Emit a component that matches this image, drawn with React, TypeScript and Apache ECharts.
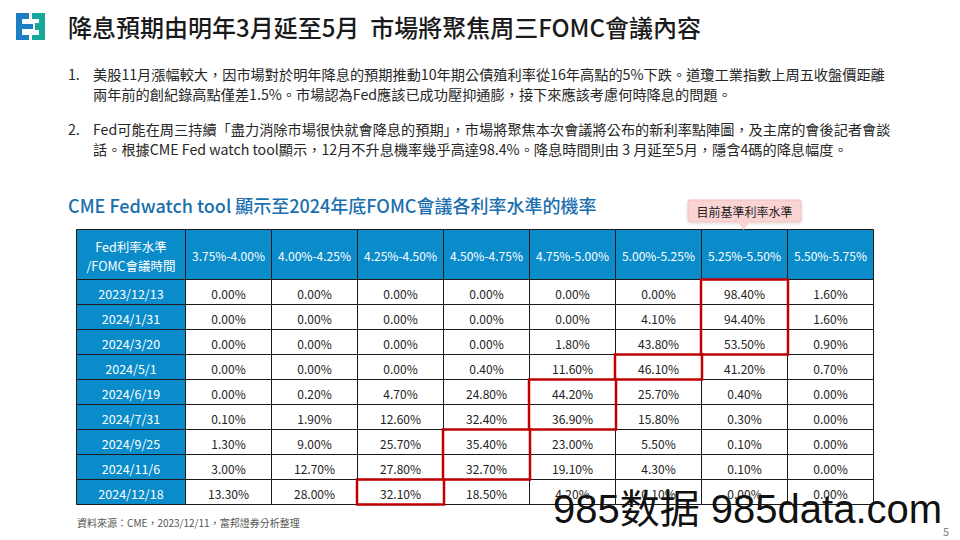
import React, { useEffect, useRef } from "react";
import * as echarts from "echarts";

// ---------- data ----------
const rateBands = ["3.75%-4.00%", "4.00%-4.25%", "4.25%-4.50%", "4.50%-4.75%", "4.75%-5.00%", "5.00%-5.25%", "5.25%-5.50%", "5.50%-5.75%"];
const meetings = ["2023/12/13", "2024/1/31", "2024/3/20", "2024/5/1", "2024/6/19", "2024/7/31", "2024/9/25", "2024/11/6", "2024/12/18"];
const p20231213 = [0, 0, 0, 0, 0, 0, 98.4, 1.6];
const p20240131 = [0, 0, 0, 0, 0, 4.1, 94.4, 1.6];
const p20240320 = [0, 0, 0, 0, 1.8, 43.8, 53.5, 0.9];
const p20240501 = [0, 0, 0, 0.4, 11.6, 46.1, 41.2, 0.7];
const p20240619 = [0, 0.2, 4.7, 24.8, 44.2, 25.7, 0.4, 0];
const p20240731 = [0.1, 1.9, 12.6, 32.4, 36.9, 15.8, 0.3, 0];
const p20240925 = [1.3, 9.0, 25.7, 35.4, 23.0, 5.5, 0.1, 0];
const p20241106 = [3.0, 12.7, 27.8, 32.7, 19.1, 4.3, 0.1, 0];
const p20241218 = [13.3, 28.0, 32.1, 18.5, 4.2, 0.1, 0, 0];
const probRows = [p20231213, p20240131, p20240320, p20240501, p20240619, p20240731, p20240925, p20241106, p20241218];
const cornerHeader = "Fed利率水準\n/FOMC會議時間";
const currentBandNote = "目前基準利率水準";

const titleText = "降息預期由明年3月延至5月  市場將聚焦周三FOMC會議內容";
const bullet1 = ["美股11月漲幅較大，因市場對於明年降息的預期推動10年期公債殖利率從16年高點的5%下跌。道瓊工業指數上周五收盤價距離", "兩年前的創紀錄高點僅差1.5%。市場認為Fed應該已成功壓抑通膨，接下來應該考慮何時降息的問題。"];
const bullet2 = ["Fed可能在周三持續「盡力消除市場很快就會降息的預期」，市場將聚焦本次會議將公布的新利率點陣圖，及主席的會後記者會談", "話。根據CME Fed watch tool顯示，12月不升息機率幾乎高達98.4%。降息時間則由 3 月延至5月，隱含4碼的降息幅度。"];
const subTitle = "CME Fedwatch tool 顯示至2024年底FOMC會議各利率水準的機率";
const sourceText = "資料來源：CME，2023/12/11，富邦證券分析整理";

// ---------- layout constants ----------
const FONT = "'Noto Sans CJK TC', 'Noto Sans', sans-serif";
const BLUE = "#0a8ccb";
const FIRST = 109 / 86; // first column width in units of a data column

type Cell = { col: number; row: number; text: string; head: boolean };

function buildCells(): Cell[] {
  const cells: Cell[] = [];
  cells.push({ col: -1, row: -1, text: cornerHeader, head: true });
  rateBands.forEach((b, c) => cells.push({ col: c, row: -1, text: b, head: true }));
  meetings.forEach((m, r) => {
    cells.push({ col: -1, row: r, text: m, head: true });
    probRows[r].forEach((v, c) => cells.push({ col: c, row: r, text: v.toFixed(2) + "%", head: false }));
  });
  return cells;
}

function buildHighlights(): number[][] {
  // group consecutive rows whose maximum falls in the same band
  const out: number[][] = [];
  probRows.forEach((row, r) => {
    let best = 0;
    row.forEach((v, c) => { if (v > row[best]) best = c; });
    const last = out[out.length - 1];
    if (last && last[0] === best && last[2] === r - 1) last[2] = r;
    else out.push([best, r, r]);
  });
  return out;
}

function cellBox(api: any, col: number, r0: number, r1: number) {
  const x0 = col < 0 ? 0 : FIRST + col;
  const x1 = col < 0 ? FIRST : FIRST + col + 1;
  const y0 = r0 < 0 ? 0 : 2 + r0;
  const y1 = r1 < 0 ? 2 : 3 + r1;
  const a = api.coord([x0, y0]);
  const b = api.coord([x1, y1]);
  return { x: Math.round(a[0]), y: Math.round(a[1]), w: Math.round(b[0]) - Math.round(a[0]), h: Math.round(b[1]) - Math.round(a[1]) };
}

export default function App() {
  const ref = useRef<HTMLDivElement>(null);
  useEffect(() => {
    if (!ref.current) return;
    const chart = echarts.init(ref.current, undefined, { renderer: "svg" });
    const cells = buildCells();
    const highlights = buildHighlights();

    const textLine = (t: string, x: number, y: number, size: number, fill: string, extra: any = {}) => ({
      type: "text", x, y, silent: true,
      style: { text: t, font: `${extra.weight || "normal"} ${size}px ${extra.family || FONT}`, fill, textAlign: extra.align || "left", textVerticalAlign: "middle" },
    });

    const option: any = {
      animation: false,
      backgroundColor: "#ffffff",
      grid: { left: 76, top: 229, width: 797, height: 275 },
      xAxis: { type: "value", min: 0, max: FIRST + rateBands.length, show: false },
      yAxis: { type: "value", min: 0, max: 2 + meetings.length, inverse: true, show: false },
      series: [
        {
          type: "custom",
          clip: false,
          z: 2,
          data: cells.map((c) => [c.col, c.row]),
          renderItem: (params: any, api: any) => {
            const cell = cells[params.dataIndex];
            const bx = cellBox(api, cell.col, cell.row, cell.row);
            const fontSize = cell.head ? (cell.row < 0 && cell.col >= 0 ? 12 : 12.5) : 12;
            return {
              type: "group",
              children: [
                {
                  type: "rect",
                  shape: { x: bx.x + 0.5, y: bx.y + 0.5, width: bx.w, height: bx.h },
                  style: { fill: cell.head ? BLUE : "#ffffff", stroke: "#1a1a1a", lineWidth: 1 },
                },
                {
                  type: "text",
                  x: bx.x + bx.w / 2 + 0.5,
                  y: bx.y + bx.h / 2 + 1.5,
                  style: {
                    text: cell.text,
                    fill: cell.head ? "#ffffff" : "#222222",
                    font: `${fontSize}px ${FONT}`,
                    textAlign: "center",
                    textVerticalAlign: "middle",
                    lineHeight: 19,
                  },
                },
              ],
            };
          },
        },
        {
          type: "custom",
          clip: false,
          z: 5,
          data: highlights,
          renderItem: (params: any, api: any) => {
            const bx = cellBox(api, api.value(0), api.value(1), api.value(2));
            return {
              type: "rect",
              shape: { x: bx.x, y: bx.y + 0.5, width: bx.w + 1, height: bx.h },
              style: { fill: "none", stroke: "#c00000", lineWidth: 2.5 },
            };
          },
        },
      ],
      graphic: [
        // logo
        { type: "polygon", shape: { points: [[16, 13], [29, 13], [29, 19], [22, 19], [22, 24], [33, 24], [33, 29], [22, 29], [22, 35], [29, 35], [29, 40], [16, 40]] }, style: { fill: "#1c7fc4" } },
        { type: "polygon", shape: { points: [[32, 13], [45, 13], [45, 40], [32, 40], [32, 35], [39, 35], [39, 30], [35, 30], [35, 23], [39, 23], [39, 19], [32, 19]] }, style: { fill: "#16a99b" } },
        textLine(titleText, 68, 26, 24, "#1a1a1a", { weight: 500 }),
        textLine("1.", 68, 74, 14.2, "#262626"),
        textLine(bullet1[0], 93, 74, 14.2, "#262626"),
        textLine(bullet1[1], 93, 94, 14.2, "#262626"),
        textLine("2.", 68, 129, 14.2, "#262626"),
        textLine(bullet2[0], 93, 129, 14.2, "#262626"),
        textLine(bullet2[1], 93, 149, 14.2, "#262626"),
        textLine(subTitle, 68, 205, 18, "#1b6fae", { weight: 500 }),
        // callout
        { type: "rect", shape: { x: 688, y: 200, width: 113, height: 22, r: 2 }, style: { fill: "#fcd3d3", stroke: "#f3c0c0", lineWidth: 1, shadowBlur: 3, shadowColor: "rgba(0,0,0,0.15)", shadowOffsetY: 1 }, z: 10 },
        { type: "polygon", shape: { points: [[737, 221], [750, 221], [743.5, 230]] }, style: { fill: "#fcd3d3" }, z: 11 },
        { ...textLine(currentBandNote, 744.5, 211.5, 12, "#222222", { align: "center" }), z: 12 },
        textLine(sourceText, 77, 522, 10, "#555555"),
        // watermark
        { ...textLine("985数据 985data.com", 553, 509, 40, "#111111", { family: "'Liberation Sans', 'Noto Sans CJK SC', sans-serif" }), z: 20 },
        textLine("5", 943, 531, 11, "#7f7f7f"),
      ],
    };
    chart.setOption(option);
    return () => chart.dispose();
  }, []);
  return <div ref={ref} style={{ position: "fixed", left: 0, top: 0, width: 960, height: 540 }} />;
}
